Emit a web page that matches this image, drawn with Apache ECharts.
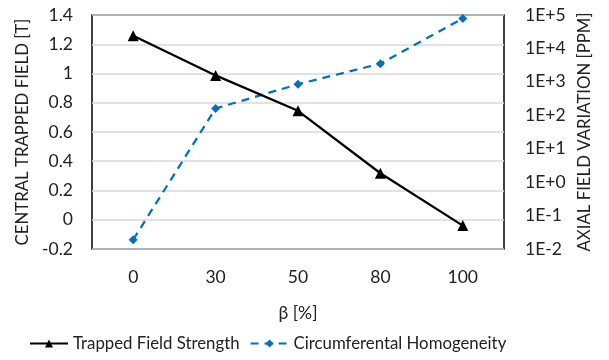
<!DOCTYPE html>
<html><head><meta charset="utf-8">
<script src="https://cdn.jsdelivr.net/npm/echarts@6/dist/echarts.min.js"></script>
<style>html,body{margin:0;padding:0;background:#fff}#c{width:609px;height:360px}</style>
</head><body><div id="c"></div>
<script>
var categories = ['0', '30', '50', '80', '100'];
var trappedField = [1.258, 0.987, 0.745, 0.318, -0.04];
var homogeneity = [0.019, 160, 850, 3500, 79000];
var leftTicks = { min: -0.2, max: 1.4, interval: 0.2 };
var rightTicks = { min: 0.01, max: 100000 };

var font = 'Lato, "Open Sans", sans-serif';
var chart = echarts.init(document.getElementById('c'));
chart.setOption({
  animation: false,
  grid: { left: 92, right: 105, top: 15, bottom: 111, show: true, borderColor: '#000', borderWidth: 1.5, backgroundColor: 'transparent', containLabel: false },
  legend: {
    bottom: 3, left: 24, itemWidth: 38, itemHeight: 10, itemGap: 10,
    textStyle: { fontFamily: font, fontSize: 16.8, color: '#222' },
    data: ['Trapped Field Strength', 'Circumferental Homogeneity']
  },
  xAxis: {
    type: 'category', data: categories, boundaryGap: true,
    axisLine: { show: false }, axisTick: { show: false },
    axisLabel: { fontFamily: font, fontSize: 17.5, color: '#222', margin: 19 },
    name: 'β [%]', nameLocation: 'middle', nameGap: 55,
    nameTextStyle: { fontFamily: font, fontSize: 17.5, color: '#222' }
  },
  yAxis: [{
    type: 'value', min: leftTicks.min, max: leftTicks.max, interval: leftTicks.interval,
    axisLine: { show: false }, axisTick: { show: false },
    axisLabel: { fontFamily: font, fontSize: 17.5, color: '#222', margin: 19, formatter: function (v) { return String(Math.round(v * 10) / 10); } },
    splitLine: { lineStyle: { color: '#d9d9d9', width: 1.5 } },
    name: 'CENTRAL TRAPPED FIELD [T]', nameLocation: 'middle', nameGap: 59, nameRotate: 90,
    nameTextStyle: { fontFamily: font, fontSize: 16.8, color: '#222' }
  }, {
    type: 'log', logBase: 10, min: rightTicks.min, max: rightTicks.max,
    axisLine: { show: false }, axisTick: { show: false }, splitLine: { show: false },
    axisLabel: { fontFamily: font, fontSize: 17.5, color: '#222', margin: 21, formatter: function (v) {
      var e = Math.round(Math.log10(v)); return '1E' + (e >= 0 ? '+' : '-') + Math.abs(e);
    } },
    name: 'AXIAL FIELD VARIATION [PPM]', nameLocation: 'middle', nameGap: 72, nameRotate: 90,
    nameTextStyle: { fontFamily: font, fontSize: 16.8, color: '#222' }
  }],
  series: [{
    name: 'Trapped Field Strength', type: 'line', yAxisIndex: 0, data: trappedField,
    symbol: 'triangle', symbolSize: 11, showAllSymbol: true,
    lineStyle: { color: '#000', width: 2.25 }, itemStyle: { color: '#000' }, z: 3
  }, {
    name: 'Circumferental Homogeneity', type: 'line', yAxisIndex: 1, data: homogeneity,
    symbol: 'diamond', symbolSize: 9, showAllSymbol: true,
    lineStyle: { color: '#0070C0', width: 2.25, type: [8, 6] }, itemStyle: { color: '#0070C0' }, z: 2
  }]
});
</script></body></html>
